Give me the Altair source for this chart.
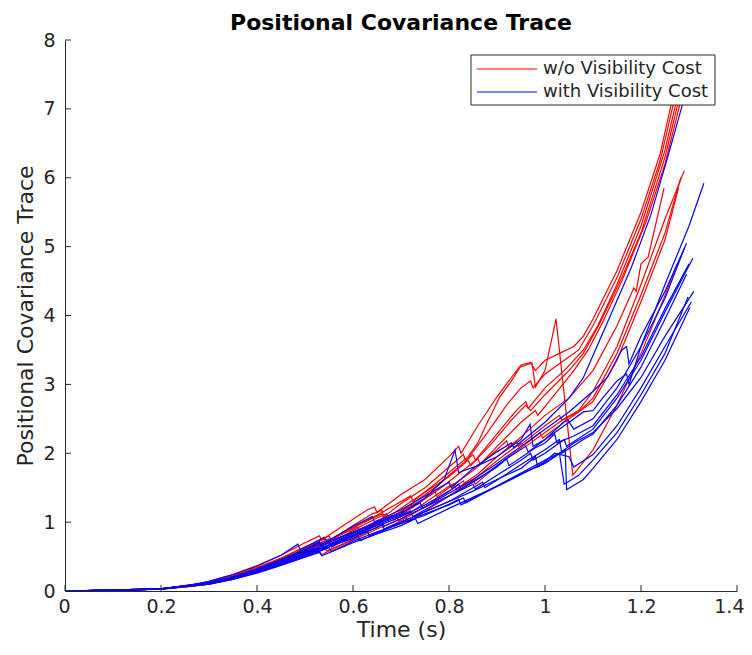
import altair as alt
import pandas as pd

series_names = ["w/o Visibility Cost", "with Visibility Cost"]
series_colors = ["#ff0000", "#0000ff"]
x_ticks = [0, 0.2, 0.4, 0.6, 0.8, 1.0, 1.2, 1.4]
y_ticks = [0, 1, 2, 3, 4, 5, 6, 7, 8]

# ---- runs without visibility cost (red) : (time, trace) pairs ----
red_runs = [
    [(0,0),(0.1,0.003),(0.2,0.03),(0.26,0.07),(0.3,0.14),(0.35,0.24),(0.4,0.37),(0.45,0.52),(0.5,0.7),(0.53,0.8),(0.535,0.74),(0.58,0.95),(0.63,1.18),(0.645,1.22),(0.65,1.14),(0.7,1.4),(0.75,1.62),(0.8,1.95),(0.82,2.1),(0.825,2.0),(0.86,2.4),(0.9,2.82),(0.93,3.1),(0.95,3.28),(0.97,3.32),(0.98,3.2),(1.0,3.35),(1.03,3.45),(1.06,3.55),(1.08,3.7),(1.1,3.95),(1.15,4.65),(1.2,5.5),(1.24,6.35),(1.28,7.6)],
    [(0,0),(0.1,0.003),(0.2,0.03),(0.27,0.08),(0.3,0.13),(0.35,0.22),(0.4,0.34),(0.45,0.48),(0.5,0.64),(0.54,0.76),(0.545,0.7),(0.6,0.95),(0.64,1.12),(0.66,1.17),(0.665,1.08),(0.7,1.27),(0.75,1.5),(0.8,1.8),(0.83,1.98),(0.835,1.88),(0.88,2.3),(0.92,2.7),(0.95,2.95),(0.97,3.05),(0.975,2.95),(1.0,3.15),(1.04,3.35),(1.07,3.5),(1.1,3.85),(1.15,4.55),(1.2,5.4),(1.24,6.25),(1.285,7.6)],
    [(0,0),(0.1,0.003),(0.2,0.028),(0.27,0.07),(0.3,0.12),(0.35,0.2),(0.4,0.32),(0.45,0.45),(0.5,0.6),(0.55,0.76),(0.555,0.7),(0.6,0.88),(0.65,1.06),(0.67,1.12),(0.675,1.05),(0.72,1.25),(0.78,1.55),(0.8,1.68),(0.85,1.98),(0.855,1.9),(0.9,2.28),(0.94,2.62),(0.96,2.75),(0.965,2.65),(1.0,2.95),(1.04,3.2),(1.08,3.5),(1.11,3.85),(1.15,4.45),(1.2,5.3),(1.25,6.4),(1.29,7.6)],
    [(0,0),(0.2,0.03),(0.28,0.09),(0.3,0.12),(0.35,0.21),(0.4,0.33),(0.45,0.47),(0.5,0.62),(0.52,0.68),(0.525,0.63),(0.58,0.85),(0.63,1.02),(0.66,1.12),(0.665,1.04),(0.7,1.2),(0.76,1.48),(0.8,1.66),(0.84,1.9),(0.845,1.82),(0.89,2.15),(0.93,2.48),(0.96,2.7),(0.97,2.62),(1.0,2.85),(1.05,3.2),(1.08,3.45),(1.115,3.9),(1.16,4.55),(1.2,5.2),(1.25,6.3),(1.295,7.6)],
    [(0,0),(0.2,0.03),(0.3,0.11),(0.35,0.19),(0.4,0.3),(0.45,0.43),(0.5,0.58),(0.55,0.72),(0.56,0.68),(0.6,0.84),(0.65,1.02),(0.68,1.1),(0.685,1.03),(0.73,1.24),(0.78,1.48),(0.82,1.7),(0.86,1.92),(0.865,1.84),(0.9,2.1),(0.95,2.45),(0.98,2.62),(0.985,2.55),(1.02,2.85),(1.06,3.2),(1.09,3.5),(1.12,3.9),(1.16,4.5),(1.21,5.35),(1.25,6.2),(1.3,7.6)],
    [(0,0),(0.2,0.028),(0.28,0.08),(0.3,0.1),(0.35,0.18),(0.4,0.28),(0.45,0.4),(0.5,0.53),(0.54,0.64),(0.545,0.58),(0.6,0.75),(0.65,0.93),(0.66,0.97),(0.665,0.9),(0.7,1.02),(0.75,1.22),(0.8,1.45),(0.83,1.6),(0.835,1.52),(0.88,1.78),(0.92,2.0),(0.95,2.15),(0.96,2.1),(1.0,2.3),(1.04,2.5),(1.07,2.62),(1.1,2.9),(1.15,3.55),(1.2,4.45),(1.25,5.4),(1.29,6.1)],
    [(0,0),(0.2,0.03),(0.3,0.11),(0.35,0.19),(0.4,0.3),(0.45,0.42),(0.5,0.56),(0.55,0.7),(0.555,0.64),(0.6,0.8),(0.65,0.98),(0.69,1.1),(0.695,1.02),(0.75,1.28),(0.8,1.52),(0.81,1.56),(0.815,1.48),(0.86,1.7),(0.9,1.95),(0.94,2.18),(0.945,2.1),(1.0,2.4),(1.03,2.55),(1.035,2.48),(1.07,2.6),(1.1,2.8),(1.15,3.45),(1.2,4.3),(1.25,5.2),(1.283,6.0)],
    [(0,0),(0.2,0.028),(0.3,0.1),(0.35,0.17),(0.4,0.27),(0.45,0.38),(0.5,0.5),(0.53,0.58),(0.535,0.53),(0.6,0.74),(0.65,0.9),(0.7,1.05),(0.71,1.08),(0.715,1.0),(0.76,1.2),(0.8,1.38),(0.85,1.62),(0.855,1.55),(0.9,1.82),(0.95,2.08),(0.99,2.3),(0.995,2.22),(1.04,2.45),(1.08,2.65),(1.1,2.75),(1.15,3.35),(1.2,4.2),(1.25,5.1),(1.278,5.85)],
    [(0,0),(0.2,0.03),(0.3,0.12),(0.35,0.2),(0.4,0.31),(0.45,0.44),(0.5,0.6),(0.55,0.74),(0.6,0.9),(0.61,0.93),(0.615,0.86),(0.65,0.98),(0.7,1.15),(0.75,1.35),(0.77,1.45),(0.775,1.37),(0.8,1.5),(0.85,1.75),(0.9,2.05),(0.92,2.18),(0.925,2.08),(0.96,2.3),(1.0,2.55),(1.05,2.8),(1.1,3.2),(1.15,3.85),(1.185,4.4),(1.19,4.35),(1.2,4.75),(1.215,4.85),(1.248,5.85)],
    [(0,0),(0.2,0.03),(0.3,0.13),(0.35,0.22),(0.4,0.33),(0.45,0.46),(0.5,0.62),(0.55,0.8),(0.555,0.74),(0.6,0.92),(0.65,1.1),(0.7,1.3),(0.72,1.38),(0.725,1.3),(0.77,1.55),(0.8,1.72),(0.84,1.95),(0.86,2.15),(0.88,2.45),(0.906,2.82),(0.93,3.05),(0.948,3.25),(0.973,3.31),(0.98,2.96),(1.0,3.2),(1.023,3.95),(1.058,1.68),(1.1,2.05),(1.15,2.7),(1.2,3.45),(1.246,4.22),(1.275,4.75)],
]

# ---- runs with visibility cost (blue) ----
blue_runs = [
    [(0,0),(0.1,0.004),(0.2,0.035),(0.25,0.07),(0.3,0.14),(0.35,0.24),(0.4,0.36),(0.45,0.52),(0.485,0.68),(0.49,0.6),(0.54,0.78),(0.545,0.72),(0.6,0.94),(0.64,1.08),(0.645,1.0),(0.7,1.18),(0.75,1.38),(0.8,1.58),(0.805,1.5),(0.85,1.78),(0.9,2.02),(0.93,2.15),(0.935,2.08),(1.0,2.45),(1.05,2.8),(1.08,3.1),(1.13,3.9),(1.18,4.7),(1.22,5.45),(1.254,6.26),(1.285,7.03),(1.305,7.6)],
    [(0,0),(0.1,0.004),(0.2,0.03),(0.3,0.12),(0.35,0.21),(0.4,0.32),(0.45,0.46),(0.5,0.6),(0.53,0.72),(0.535,0.66),(0.6,0.85),(0.65,1.0),(0.655,0.95),(0.7,1.08),(0.75,1.25),(0.8,1.45),(0.82,1.55),(0.825,1.48),(0.88,1.72),(0.92,1.92),(0.96,2.1),(0.965,2.02),(1.0,2.2),(1.04,2.4),(1.08,2.6),(1.1,2.62),(1.12,2.8),(1.15,3.05),(1.17,3.15),(1.175,3.0),(1.2,3.55),(1.25,4.45),(1.3,5.3),(1.331,5.92)],
    [(0,0),(0.1,0.004),(0.2,0.03),(0.3,0.12),(0.35,0.2),(0.4,0.31),(0.45,0.44),(0.5,0.58),(0.53,0.7),(0.535,0.62),(0.6,0.84),(0.65,0.98),(0.7,1.12),(0.75,1.35),(0.79,1.62),(0.8125,2.05),(0.82,1.72),(0.86,1.82),(0.9,1.95),(0.95,2.2),(0.969,2.42),(0.975,2.1),(1.0,2.2),(1.046,2.5),(1.06,2.35),(1.1,2.5),(1.15,2.95),(1.2,3.55),(1.25,4.25),(1.29,4.97)],
    [(0,0),(0.1,0.004),(0.2,0.03),(0.3,0.11),(0.35,0.19),(0.4,0.3),(0.45,0.42),(0.5,0.55),(0.55,0.7),(0.555,0.64),(0.6,0.8),(0.65,0.95),(0.66,1.02),(0.665,0.94),(0.7,1.05),(0.75,1.22),(0.8,1.38),(0.85,1.55),(0.855,1.48),(0.9,1.68),(0.95,1.9),(0.97,2.0),(0.975,1.9),(1.0,2.0),(1.04,2.2),(1.045,2.1),(1.1,2.35),(1.15,2.8),(1.2,3.35),(1.25,4.05),(1.308,4.83)],
    [(0,0),(0.2,0.03),(0.3,0.12),(0.35,0.2),(0.4,0.3),(0.45,0.43),(0.5,0.57),(0.52,0.62),(0.525,0.56),(0.6,0.82),(0.65,0.96),(0.7,1.1),(0.72,1.16),(0.725,1.08),(0.78,1.3),(0.8,1.38),(0.85,1.58),(0.9,1.8),(0.92,1.92),(0.925,1.82),(0.98,2.08),(1.0,2.15),(1.02,2.28),(1.025,2.15),(1.06,2.25),(1.1,2.4),(1.15,2.85),(1.2,3.4),(1.25,4.1),(1.3,4.75)],
    [(0,0),(0.2,0.03),(0.3,0.11),(0.35,0.18),(0.4,0.28),(0.45,0.4),(0.5,0.53),(0.55,0.66),(0.6,0.78),(0.63,0.86),(0.635,0.8),(0.7,1.0),(0.75,1.15),(0.8,1.3),(0.85,1.5),(0.87,1.58),(0.875,1.5),(0.92,1.7),(0.96,1.88),(1.0,2.05),(1.03,2.2),(1.035,2.0),(1.08,2.2),(1.1,2.28),(1.15,2.7),(1.2,3.25),(1.25,3.95),(1.295,4.6)],
    [(0,0),(0.2,0.028),(0.3,0.1),(0.35,0.17),(0.4,0.27),(0.45,0.38),(0.5,0.5),(0.55,0.63),(0.555,0.57),(0.6,0.72),(0.65,0.86),(0.7,0.98),(0.75,1.12),(0.8,1.25),(0.83,1.35),(0.835,1.28),(0.88,1.45),(0.92,1.6),(0.96,1.75),(1.0,1.9),(1.03,2.0),(1.04,1.55),(1.07,1.68),(1.1,1.9),(1.15,2.3),(1.2,2.85),(1.25,3.45),(1.298,4.27)],
    [(0,0),(0.2,0.028),(0.3,0.1),(0.35,0.17),(0.4,0.26),(0.45,0.37),(0.5,0.49),(0.53,0.56),(0.535,0.51),(0.6,0.7),(0.65,0.83),(0.7,0.95),(0.73,1.05),(0.735,0.98),(0.8,1.2),(0.85,1.36),(0.9,1.52),(0.95,1.7),(1.0,1.85),(1.042,2.05),(1.045,1.47),(1.08,1.62),(1.1,1.78),(1.15,2.2),(1.2,2.75),(1.25,3.35),(1.302,4.12)],
    [(0,0),(0.2,0.03),(0.3,0.11),(0.35,0.18),(0.4,0.28),(0.45,0.39),(0.5,0.52),(0.55,0.65),(0.6,0.76),(0.61,0.8),(0.615,0.73),(0.67,0.9),(0.7,0.98),(0.75,1.1),(0.8,1.26),(0.82,1.33),(0.825,1.25),(0.88,1.45),(0.93,1.62),(0.98,1.8),(1.0,1.88),(1.02,2.0),(1.05,1.95),(1.06,1.8),(1.1,1.98),(1.15,2.4),(1.2,2.95),(1.25,3.55),(1.305,4.2)],
    [(0,0),(0.2,0.03),(0.3,0.12),(0.35,0.2),(0.4,0.3),(0.45,0.42),(0.5,0.55),(0.55,0.67),(0.6,0.8),(0.65,0.92),(0.66,0.96),(0.665,0.9),(0.7,1.0),(0.75,1.15),(0.8,1.3),(0.85,1.45),(0.9,1.62),(0.95,1.78),(0.98,1.95),(0.985,1.8),(1.02,1.95),(1.06,2.15),(1.1,2.3),(1.15,2.65),(1.2,3.1),(1.25,3.7),(1.31,4.35)],
    [(0,0),(0.2,0.03),(0.3,0.12),(0.35,0.2),(0.4,0.31),(0.45,0.44),(0.5,0.6),(0.55,0.72),(0.6,0.86),(0.65,1.0),(0.7,1.14),(0.74,1.28),(0.745,1.2),(0.8,1.42),(0.85,1.62),(0.9,1.85),(0.95,2.1),(1.0,2.35),(1.05,2.6),(1.1,2.9),(1.13,3.1),(1.16,3.5),(1.17,3.55),(1.175,3.3),(1.2,3.7),(1.25,4.35),(1.295,5.05)],
]

rows = []
for i, run in enumerate(red_runs):
    for j, (t, v) in enumerate(run):
        rows.append({"series": series_names[0], "run": f"a{i:02d}", "k": j, "t": t, "v": v})
for i, run in enumerate(blue_runs):
    for j, (t, v) in enumerate(run):
        rows.append({"series": series_names[1], "run": f"b{i:02d}", "k": j, "t": t, "v": v})
df = pd.DataFrame(rows)

W, H = 672, 551
INK = "#262626"
FONT = "DejaVu Sans"

x_axis = alt.Axis(values=x_ticks, format="~g", title="Time (s)", ticks=False, grid=False,
                  labelFontSize=19, labelPadding=6, titleFontSize=22, titlePadding=3,
                  labelFlush=1, labelFlushOffset=7)
y_axis = alt.Axis(values=y_ticks, format="~g", title="Positional Covariance Trace", ticks=False, grid=False,
                  labelFontSize=19, labelPadding=10, titleFontSize=22, titlePadding=5)

xs = alt.Scale(domain=[0, 1.4], nice=False, zero=False)
ys = alt.Scale(domain=[0, 8], nice=False)
cs = alt.Scale(domain=series_names, range=series_colors)

lines = alt.Chart(df).mark_line(strokeWidth=1.2, clip=True).encode(
    x=alt.X("t:Q", scale=xs, axis=x_axis),
    y=alt.Y("v:Q", scale=ys, axis=y_axis),
    color=alt.Color("series:N", scale=cs, legend=None),
    detail="run:N",
    order="k:Q",
)

xt = alt.Chart(pd.DataFrame({"t": x_ticks})).mark_rule(color=INK, strokeWidth=1).encode(
    x=alt.X("t:Q", scale=xs, axis=x_axis), y=alt.value(H), y2=alt.value(H - 6))
yt = alt.Chart(pd.DataFrame({"v": y_ticks})).mark_rule(color=INK, strokeWidth=1).encode(
    y=alt.Y("v:Q", scale=ys, axis=y_axis), x=alt.value(0), x2=alt.value(6))

# ---- legend box drawn inside the plot (MATLAB style) ----
leg_df = pd.DataFrame({"series": series_names})
leg_box = alt.Chart(leg_df.head(1)).mark_rect(fill="white", stroke=INK, strokeWidth=1).encode(
    x=alt.value(406), x2=alt.value(650), y=alt.value(15), y2=alt.value(65))
leg_layers = []
for i, name in enumerate(series_names):
    one = pd.DataFrame({"series": [name]})
    yy = 29 + 23 * i
    leg_layers.append(alt.Chart(one).mark_rule(strokeWidth=1.2).encode(
        x=alt.value(412), x2=alt.value(472), y=alt.value(yy),
        color=alt.Color("series:N", scale=cs, legend=None)))
    leg_layers.append(alt.Chart(one).mark_text(align="left", baseline="middle", fontSize=18,
                                               font=FONT, color=INK).encode(
        x=alt.value(478), y=alt.value(yy), text="series:N"))

chart = alt.layer(lines, xt, yt, leg_box, *leg_layers).properties(
    width=W, height=H,
    autosize=alt.AutoSizeParams(type="none"),
    padding={"left": 57, "top": 32, "right": 7, "bottom": 51},
    title=alt.Title("Positional Covariance Trace", fontSize=22, font=FONT, fontWeight="bold",
                    color="#000000", anchor="middle", offset=-4),
).configure_axis(
    domainColor=INK, labelColor=INK, titleColor=INK, labelFont=FONT, titleFont=FONT,
    titleFontWeight="normal", domainWidth=1,
).configure_view(strokeWidth=0)

chart.save("out.html", embed_options={"renderer": "svg", "actions": False})
